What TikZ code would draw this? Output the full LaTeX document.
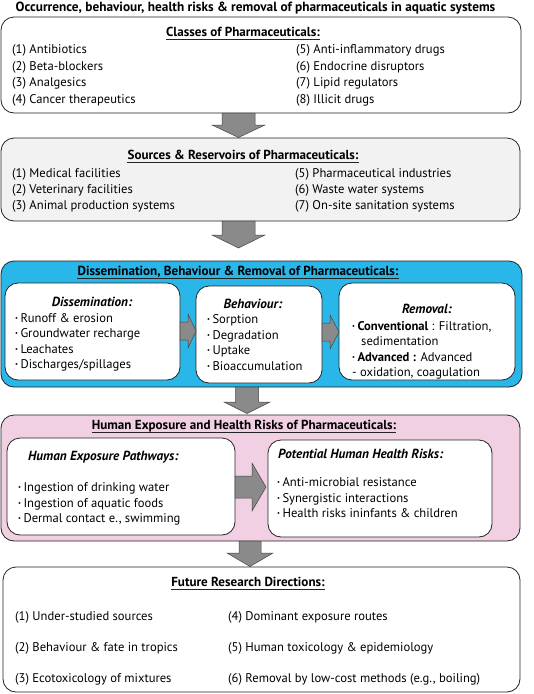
\documentclass[tikz,border=0pt]{standalone}
\usepackage{fontspec}
\setmainfont{PT Sans}
\usetikzlibrary{calc}
\definecolor{bluefill}{RGB}{41,182,232}
\definecolor{pinkfill}{RGB}{240,208,226}
\definecolor{grayfill}{RGB}{242,242,242}
\definecolor{arrowfill}{RGB}{138,138,138}
\definecolor{linecol}{RGB}{35,35,35}
\newcommand\bul{\raisebox{1.8pt}{\fontsize{6.5}{6.5}\selectfont\textbullet}\hspace{2.4pt}}
\newcommand\blkdown[6]{\draw[barrow] (#1-#5,#2) -- (#1+#5,#2) -- (#1+#5,#3) -- (#1+#6,#3) -- (#1,#4) -- (#1-#6,#3) -- (#1-#5,#3) -- cycle;}
\newcommand\blkright[6]{\draw[barrow] (#2,#1-#5) -- (#2,#1+#5) -- (#3,#1+#5) -- (#3,#1+#6) -- (#4,#1) -- (#3,#1-#6) -- (#3,#1-#5) -- cycle;}
\tikzset{
  box/.style={draw=linecol, line width=0.8pt, rounded corners=13pt, inner sep=0pt, anchor=center},
  txt/.style={inner sep=0pt, anchor=base west, font=\fontsize{12.6}{14}\selectfont},
  hdr/.style={inner sep=0pt, anchor=base, font=\bfseries\fontsize{13.1}{15}\selectfont},
  subhdr/.style={inner sep=0pt, font=\bfseries\itshape\fontsize{13.2}{15}\selectfont},
  uline/.style={line width=0.9pt, draw=linecol},
  barrow/.style={fill=arrowfill, draw=linecol!85, line width=0.5pt},
}
\begin{document}
\begin{tikzpicture}[x=1pt,y=-1pt]
\useasboundingbox (0,0) rectangle (534,694);
% title
\node[hdr, font=\bfseries\fontsize{13.3}{15}\selectfont] (title) at (255.5,11.5) {Occurrence, behaviour, health risks \& removal of pharmaceuticals in aquatic systems};
% box 1
\node[box, fill=white, minimum width=520pt, minimum height=96pt] (b1) at (261,65) {};
\node[hdr] (h1) at (243,36) {Classes of Pharmaceuticals:};
\draw[uline] ($(h1.base west)+(0,3)$) -- ($(h1.base east)+(0,3)$);
\node[txt] (c1) at (12,53.5) {(1) Antibiotics};
\node[txt] (c2) at (12,70) {(2) Beta-blockers};
\node[txt] (c3) at (12,86.5) {(3) Analgesics};
\node[txt] (c4) at (12,103) {(4) Cancer therapeutics};
\node[txt] (c5) at (296,53.5) {(5) Anti-inflammatory drugs};
\node[txt] (c6) at (296,70) {(6) Endocrine disruptors};
\node[txt] (c7) at (296,86.5) {(7) Lipid regulators};
\node[txt] (c8) at (296,103) {(8) Illicit drugs};
% arrow 1
\blkdown{238.5}{113}{125}{137.5}{16.5}{26.5}
% box 2
\node[box, fill=grayfill, minimum width=519pt, minimum height=83pt] (b2) at (260.5,179.5) {};
\node[hdr] (h2) at (243,159) {Sources \& Reservoirs of Pharmaceuticals:};
\draw[uline] ($(h2.base west)+(0,3)$) -- ($(h2.base east)+(0,3)$);
\node[txt] (s1) at (12,177) {(1) Medical facilities};
\node[txt] (s2) at (12,193) {(2) Veterinary facilities};
\node[txt] (s3) at (12,209) {(3) Animal production systems};
\node[txt] (s5) at (295,177) {(5) Pharmaceutical industries};
\node[txt] (s6) at (295,193) {(6) Waste water systems};
\node[txt] (s7) at (295,209) {(7) On-site sanitation systems};
% arrow 2
\blkdown{238.5}{221}{235}{248}{16.5}{26.5}
% box 3
\node[box, fill=bluefill, minimum width=521pt, minimum height=126pt] (b3) at (261.5,324) {};
\node[hdr] (h3) at (238,275) {Dissemination, Behaviour \& Removal of Pharmaceuticals:};
\draw[uline] ($(h3.base west)+(0,3)$) -- ($(h3.base east)+(0,3)$);
\node[box, fill=white, minimum width=175pt, minimum height=97pt] (dd) at (92.5,331.5) {};
\node[box, fill=white, minimum width=126pt, minimum height=97pt] (bb) at (259,334.5) {};
\node[box, fill=white, minimum width=176pt, minimum height=97pt] (rr) at (427,331.5) {};
\blkright{331}{180}{188}{196}{9}{17}
\blkright{332}{322}{330}{339}{9}{17}
\node[subhdr, anchor=base] (dt) at (92,306.5) {Dissemination:};
\node[txt] (d1) at (15,322) {\bul Runoff \& erosion};
\node[txt] (d2) at (15,337.5) {\bul Groundwater recharge};
\node[txt] (d3) at (15,353) {\bul Leachates};
\node[txt] (d4) at (15,368.5) {\bul Discharges/spillages};
\node[subhdr, anchor=base] (bt) at (253,308.5) {Behaviour:};
\node[txt] (e1) at (207,323.5) {\bul Sorption};
\node[txt] (e2) at (207,339) {\bul Degradation};
\node[txt] (e3) at (207,354.5) {\bul Uptake};
\node[txt] (e4) at (207,370) {\bul Bioaccumulation};
\node[subhdr, anchor=base] (rt) at (427,313.5) {Removal:};
\node[txt] (r1) at (352,330) {\bul\textbf{Conventional} : Filtration,};
\node[txt] (r2) at (361,345.5) {sedimentation};
\node[txt] (r3) at (352,361) {\bul\textbf{Advanced :} Advanced};
\node[txt] (r4) at (352,376) {- oxidation, coagulation};
% arrow 3
\blkdown{247}{387}{402}{413.5}{11.5}{23}
% box 4
\node[box, fill=pinkfill, minimum width=519pt, minimum height=126pt] (b4) at (260.5,478) {};
\node[hdr] (h4) at (244,429.5) {Human Exposure and Health Risks of Pharmaceuticals:};
\draw[uline] ($(h4.base west)+(0,3)$) -- ($(h4.base east)+(0,3)$);
\node[box, fill=white, minimum width=228pt, minimum height=97pt] (pl) at (121,486.5) {};
\node[box, fill=white, minimum width=224pt, minimum height=97pt] (pr) at (380,488.5) {};
\blkright{487}{235}{252}{266}{11}{24}
\node[subhdr, anchor=base west] (lt) at (28,460.5) {Human Exposure Pathways:};
\node[txt] (l1) at (18,491.5) {\bul Ingestion of drinking water};
\node[txt] (l2) at (18,507) {\bul Ingestion of aquatic foods};
\node[txt] (l3) at (18,522.5) {\bul Dermal contact e., swimming};
\node[subhdr, anchor=base west] (pt) at (278,458.5) {Potential Human Health Risks:};
\node[txt] (p1) at (277,486.5) {\bul Anti-microbial resistance};
\node[txt] (p2) at (277,502) {\bul Synergistic interactions};
\node[txt] (p3) at (277,517.5) {\bul Health risks ininfants \& children};
% arrow 4
\blkdown{250}{541}{553}{566.5}{11}{23}
% box 5
\node[box, fill=white, minimum width=517pt, minimum height=125pt] (b5) at (261.5,629.5) {};
\node[hdr] (h5) at (248,586.5) {Future Research Directions:};
\draw[uline] ($(h5.base west)+(0,3)$) -- ($(h5.base east)+(0,3)$);
\node[txt] (f1) at (15,620.5) {(1) Under-studied sources};
\node[txt] (f2) at (15,651.5) {(2) Behaviour \& fate in tropics};
\node[txt] (f3) at (15,682.5) {(3) Ecotoxicology of mixtures};
\node[txt] (f4) at (228,620.5) {(4) Dominant exposure routes};
\node[txt] (f5) at (228,651.5) {(5) Human toxicology \& epidemiology};
\node[txt] (f6) at (228,682.5) {(6) Removal by low-cost methods (e.g., boiling)};
\end{tikzpicture}
\end{document}
